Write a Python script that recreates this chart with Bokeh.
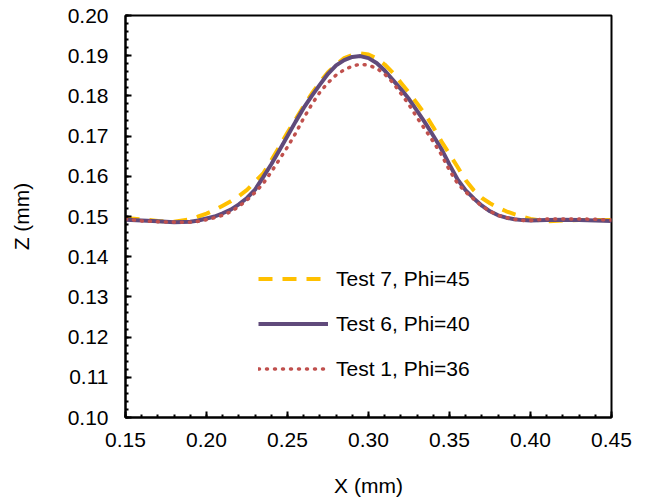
from bokeh.plotting import figure
from bokeh.models import Range1d, FixedTicker, Legend, LegendItem
from bokeh.embed import file_html
from bokeh.resources import INLINE

x = [0.15, 0.16, 0.17, 0.18, 0.19, 0.195, 0.20, 0.205, 0.21, 0.215, 0.22, 0.225, 0.23, 0.235,
     0.24, 0.245, 0.25, 0.255, 0.26, 0.265, 0.27, 0.275, 0.28, 0.285, 0.29, 0.295, 0.30, 0.305,
     0.31, 0.315, 0.32, 0.325, 0.33, 0.335, 0.34, 0.345, 0.35, 0.355, 0.36, 0.365, 0.37, 0.375,
     0.38, 0.385, 0.39, 0.395, 0.40, 0.41, 0.42, 0.43, 0.44, 0.45]

test7_phi45 = [0.1496, 0.1493, 0.1489, 0.1487, 0.1493, 0.1500, 0.1507, 0.1516, 0.1527, 0.1538,
               0.1551, 0.1566, 0.1587, 0.1607, 0.1640, 0.1674, 0.1709, 0.1742, 0.1775, 0.1806,
               0.1834, 0.1859, 0.1878, 0.1894, 0.1902, 0.1906, 0.1903, 0.1893, 0.1878, 0.1858,
               0.1833, 0.1808, 0.1781, 0.1754, 0.1722, 0.1687, 0.1655, 0.1623, 0.1590, 0.1565,
               0.1546, 0.1533, 0.1522, 0.1513, 0.1506, 0.1500, 0.1494, 0.1488, 0.1490, 0.1491,
               0.1491, 0.1491]

test6_phi40 = [0.1492, 0.1490, 0.1488, 0.1486, 0.1487, 0.1490, 0.1495, 0.1500, 0.1508, 0.1517,
               0.1530, 0.1546, 0.1567, 0.1598, 0.1630, 0.1665, 0.1700, 0.1736, 0.1770, 0.1800,
               0.1828, 0.1855, 0.1876, 0.1889, 0.1897, 0.1899, 0.1894, 0.1882, 0.1863, 0.1840,
               0.1817, 0.1792, 0.1763, 0.1733, 0.1701, 0.1668, 0.1629, 0.1592, 0.1565, 0.1545,
               0.1527, 0.1513, 0.1503, 0.1497, 0.1493, 0.1491, 0.1490, 0.1491, 0.1492, 0.1491,
               0.1490, 0.1489]

test1_phi36 = [0.1494, 0.1489, 0.1487, 0.1486, 0.1486, 0.1488, 0.1492, 0.1497, 0.1503, 0.1512,
               0.1525, 0.1541, 0.1560, 0.1582, 0.1611, 0.1642, 0.1673, 0.1707, 0.1745, 0.1779,
               0.1809, 0.1833, 0.1852, 0.1865, 0.1874, 0.1879, 0.1876, 0.1869, 0.1854, 0.1833,
               0.1806, 0.1778, 0.1746, 0.1716, 0.1686, 0.1654, 0.1615, 0.1582, 0.1561, 0.1543,
               0.1526, 0.1513, 0.1503, 0.1497, 0.1493, 0.1490, 0.1490, 0.1494, 0.1494, 0.1494,
               0.1493, 0.1491]

series_names = ["Test 7, Phi=45", "Test 6, Phi=40", "Test 1, Phi=36"]

x_ticks = [0.15, 0.20, 0.25, 0.30, 0.35, 0.40, 0.45]
x_tick_labels = ["0.15", "0.20", "0.25", "0.30", "0.35", "0.40", "0.45"]
x_minor = [round(0.15 + 0.01 * i, 2) for i in range(31)]
y_ticks = [0.10, 0.11, 0.12, 0.13, 0.14, 0.15, 0.16, 0.17, 0.18, 0.19, 0.20]
y_tick_labels = ["0.10", "0.11", "0.12", "0.13", "0.14", "0.15", "0.16", "0.17", "0.18", "0.19", "0.20"]
y_minor = [round(0.10 + 0.002 * i, 3) for i in range(51)]

FONT = "Liberation Sans"
FS = "21px"

p = figure(width=646, height=499, output_backend="svg", toolbar_location=None,
           x_range=Range1d(0.15, 0.45), y_range=Range1d(0.10, 0.20),
           min_border_left=125, min_border_right=35, min_border_top=15, min_border_bottom=81)

p.xgrid.visible = False
p.ygrid.visible = False
p.outline_line_color = "black"
p.outline_line_width = 2
p.background_fill_color = "white"
p.border_fill_color = "white"

p.xaxis.ticker = FixedTicker(ticks=x_ticks, minor_ticks=x_minor)
p.yaxis.ticker = FixedTicker(ticks=y_ticks, minor_ticks=y_minor)
p.xaxis.major_label_overrides = {t: l for t, l in zip(x_ticks, x_tick_labels)}
p.yaxis.major_label_overrides = {t: l for t, l in zip(y_ticks, y_tick_labels)}

for ax in (p.xaxis, p.yaxis):
    ax.axis_line_color = "black"
    ax.axis_line_width = 2
    ax.major_tick_line_color = "black"
    ax.minor_tick_line_color = "black"
    ax.major_tick_line_width = 2
    ax.minor_tick_line_width = 2
    ax.major_tick_in = 6
    ax.major_tick_out = 0
    ax.minor_tick_in = 3
    ax.minor_tick_out = 0
    ax.major_label_text_font = FONT
    ax.major_label_text_font_size = FS
    ax.major_label_text_color = "black"
    ax.axis_label_text_font = FONT
    ax.axis_label_text_font_size = FS
    ax.axis_label_text_font_style = "normal"
    ax.axis_label_text_color = "black"

p.xaxis.axis_label = "X (mm)"
p.yaxis.axis_label = "Z (mm)"
p.xaxis.major_label_standoff = 15
p.yaxis.major_label_standoff = 17
p.xaxis.axis_label_standoff = 24
p.yaxis.axis_label_standoff = 32

r7 = p.line(x, test7_phi45, line_color="#FFC000", line_width=4, line_dash="14 10")
r6 = p.line(x, test6_phi40, line_color="#604A7B", line_width=4)
r1 = p.line(x, test1_phi36, line_color="#C0504D", line_width=3.5, line_dash="1 7", line_cap="round")

legend = Legend(items=[LegendItem(label=series_names[0], renderers=[r7]),
                       LegendItem(label=series_names[1], renderers=[r6]),
                       LegendItem(label=series_names[2], renderers=[r1])],
                location=(133, 26), orientation="vertical")
legend.border_line_color = None
legend.background_fill_alpha = 0
legend.padding = 0
legend.margin = 0
legend.spacing = 0
legend.glyph_width = 70
legend.glyph_height = 45
legend.label_height = 45
legend.label_standoff = 8
legend.label_text_font = FONT
legend.label_text_font_size = FS
legend.label_text_color = "black"
p.add_layout(legend, "center")

open("out.html", "w").write(file_html(p, INLINE))
